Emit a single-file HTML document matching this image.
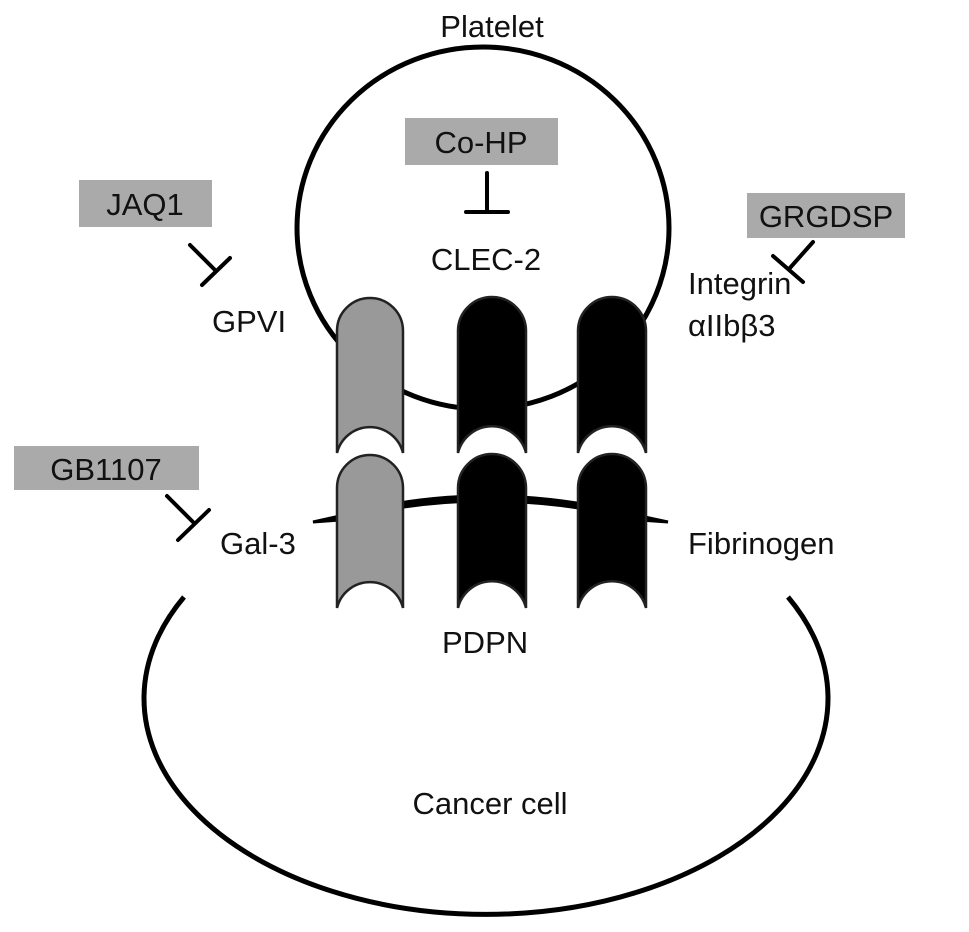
<!DOCTYPE html>
<html><head><meta charset="utf-8"><style>
html,body{margin:0;padding:0;background:#fff;}
svg text{font-family:"Liberation Sans",Arial,sans-serif;font-size:31px;fill:#111;}
</style></head><body>
<svg width="969" height="927" viewBox="0 0 969 927" xmlns="http://www.w3.org/2000/svg">
<rect width="969" height="927" fill="#fff"/>
<!-- platelet -->
<ellipse cx="483" cy="228" rx="186" ry="181" fill="none" stroke="#000" stroke-width="5"/>
<!-- cancer cell -->
<path d="M184,597 A342,216 0 1 0 788,597" fill="none" stroke="#000" stroke-width="5"/>
<!-- lower membrane -->
<path d="M313,522 L340,516 Q483,476 640,516 L668,522 L640,520 Q483,482 340,520 Z" fill="#000" stroke="#000" stroke-width="3"/>
<!-- pillars -->
<g stroke="#222" stroke-width="2.5">
<path d="M337,453 L337,331 A33,33 0 0 1 403,331 L403,453 A34,34 0 0 0 337,453 Z" fill="#999"/>
<path d="M337,608 L337,488 A33,33 0 0 1 403,488 L403,608 A34,34 0 0 0 337,608 Z" fill="#999"/>
<path d="M458,453 L458,331 A34,34 0 0 1 526,331 L526,453 A35,35 0 0 0 458,453 Z" fill="#000"/>
<path d="M458,608 L458,488 A34,34 0 0 1 526,488 L526,608 A35,35 0 0 0 458,608 Z" fill="#000"/>
<path d="M578,453 L578,331 A34,34 0 0 1 646,331 L646,453 A35,35 0 0 0 578,453 Z" fill="#000"/>
<path d="M578,608 L578,488 A34,34 0 0 1 646,488 L646,608 A35,35 0 0 0 578,608 Z" fill="#000"/>
</g>
<!-- boxes -->
<rect x="405" y="118" width="153" height="47" fill="#aaa"/>
<rect x="79" y="180" width="133" height="47" fill="#aaa"/>
<rect x="747" y="193" width="158" height="45" fill="#aaa"/>
<rect x="14" y="446" width="185" height="44" fill="#aaa"/>
<!-- inhibitor symbols -->
<g stroke="#000" stroke-width="4" fill="none" stroke-linecap="round">
<line x1="487" y1="173" x2="487" y2="212"/><line x1="466" y1="212" x2="508" y2="212"/>
<line x1="190" y1="245" x2="216" y2="271"/><line x1="230" y1="258" x2="202" y2="285"/>
<line x1="167" y1="496" x2="193" y2="522"/><line x1="209" y1="510" x2="178" y2="540"/>
<line x1="813" y1="242" x2="789" y2="269"/><line x1="773" y1="256" x2="803" y2="282"/>
</g>
<!-- text -->
<text x="492" y="37" text-anchor="middle">Platelet</text>
<text x="481" y="153" text-anchor="middle">Co-HP</text>
<text x="145" y="215" text-anchor="middle">JAQ1</text>
<text x="826" y="227" text-anchor="middle">GRGDSP</text>
<text x="106" y="480" text-anchor="middle">GB1107</text>
<text x="486" y="270" text-anchor="middle">CLEC-2</text>
<text x="212" y="332">GPVI</text>
<text x="688" y="294">Integrin</text>
<text x="688" y="336">αIIbβ3</text>
<text x="220" y="554">Gal-3</text>
<text x="688" y="554">Fibrinogen</text>
<text x="442" y="653">PDPN</text>
<text x="490" y="814" text-anchor="middle">Cancer cell</text>
</svg>
</body></html>
